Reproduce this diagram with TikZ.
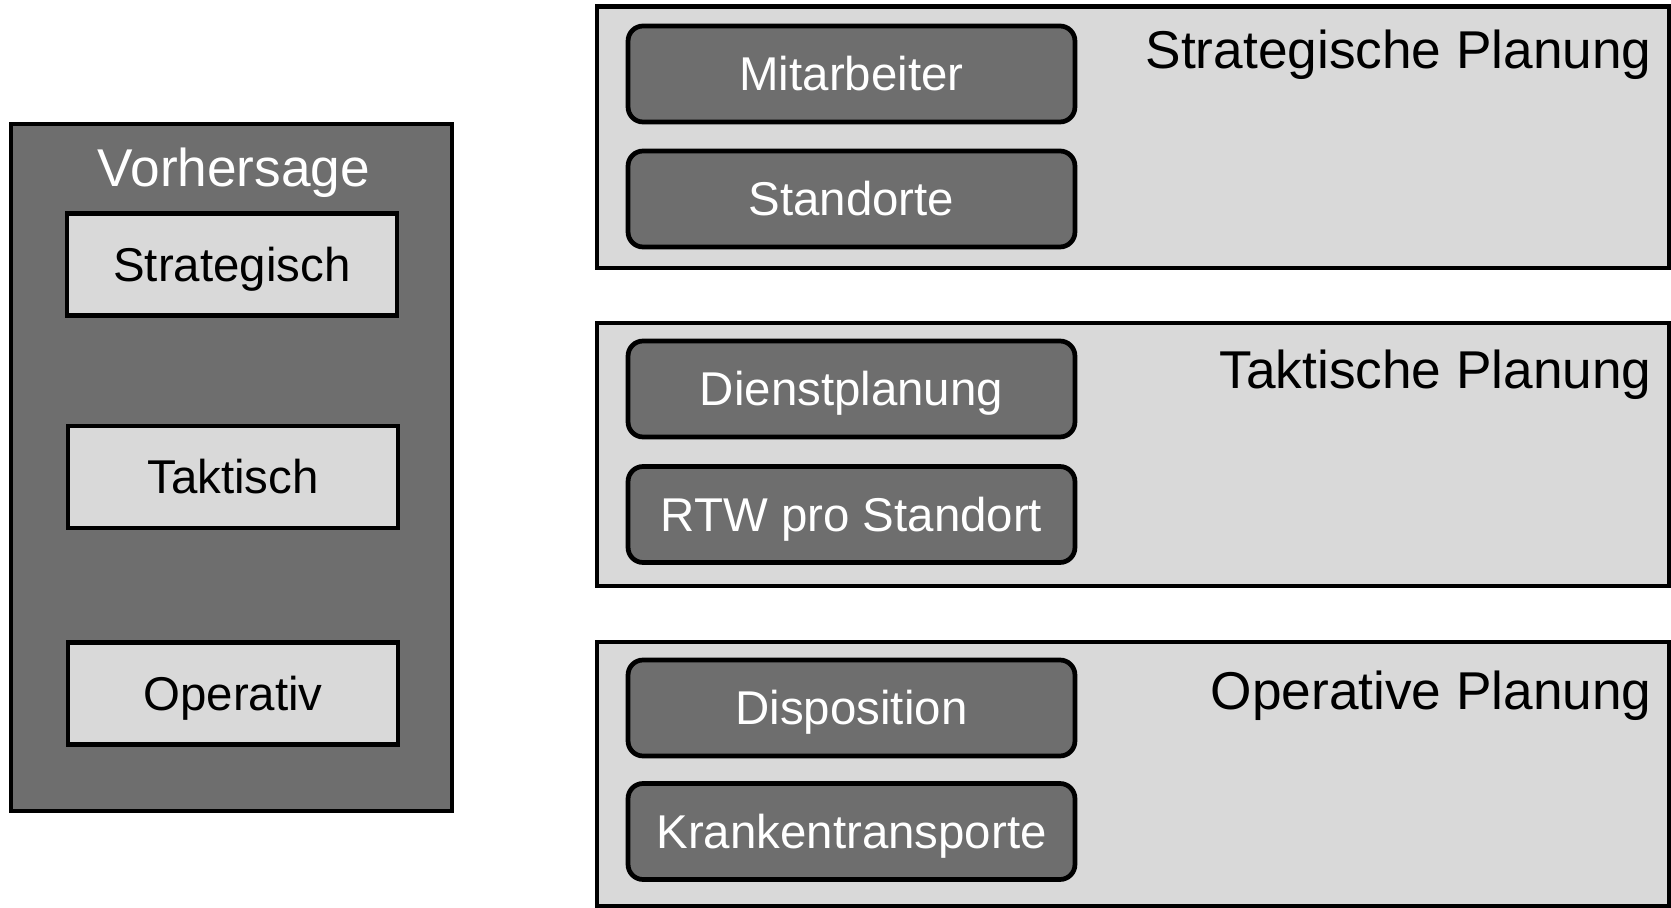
\documentclass[tikz,border=0pt]{standalone}
\usepackage{fontspec}
\setmainfont{Liberation Sans}
\definecolor{dunkel}{RGB}{110,110,110}
\definecolor{hell}{RGB}{217,217,217}
\tikzset{
  rahmen/.style={draw=black, line width=2.3pt},
  prognose/.style={rahmen, line width=2.6pt, fill=hell, minimum width=6.6cm, minimum height=2.04cm, inner sep=0pt,
    font=\fontsize{27}{32}\selectfont, text height=19.3pt, text depth=0pt},
  aufgabe/.style={rahmen, line width=2.7pt, fill=dunkel, rounded corners=0.3cm, minimum width=8.94cm, minimum height=1.92cm,
    inner sep=0pt, text=white, font=\fontsize{27}{32}\selectfont, text height=19.3pt, text depth=0pt},
  ebene/.style={rahmen, fill=hell, minimum width=21.44cm, inner sep=0pt},
  titel/.style={font=\fontsize{30.3}{36}\selectfont, inner sep=0pt}
}
\begin{document}
\begin{tikzpicture}[x=0.02cm, y=-0.02cm]
\useasboundingbox (0,0) rectangle (1671,908);

% Vorhersage
\node [rahmen, fill=dunkel, minimum width=8.82cm, minimum height=13.74cm] (vorh) at (231.5,467.5) {};
\node [titel, text=white, anchor=base] (vorhtitel) at (234,187) {Vorhersage};
\node [prognose] (strat) at (232,264.5) {Strategisch};
\node [prognose] (takt) at (233,477) {Taktisch};
\node [prognose] (oper) at (233,693.5) {Operativ};

% Planungsebenen
\node [ebene, minimum height=5.24cm] (sp) at (1133,137.5) {};
\node [ebene, minimum height=5.26cm] (tp) at (1133,454.5) {};
\node [ebene, minimum height=5.28cm] (op) at (1133,774) {};
\node [titel, anchor=base east] (sptitel) at (1652,69) {Strategische Planung};
\node [titel, anchor=base east] (tptitel) at (1652,389) {Taktische Planung};
\node [titel, anchor=base east] (optitel) at (1652,709) {Operative Planung};

\node [aufgabe] (mitarb) at (851.5,74) {Mitarbeiter};
\node [aufgabe] (stand) at (851.5,199) {Standorte};
\node [aufgabe] (dienst) at (851.5,389) {Dienstplanung};
\node [aufgabe] (rtw) at (851.5,514.5) {RTW pro Standort};
\node [aufgabe] (dispo) at (851.5,708) {Disposition};
\node [aufgabe] (kt) at (851.5,831.5) {Krankentransporte};
\end{tikzpicture}
\end{document}
